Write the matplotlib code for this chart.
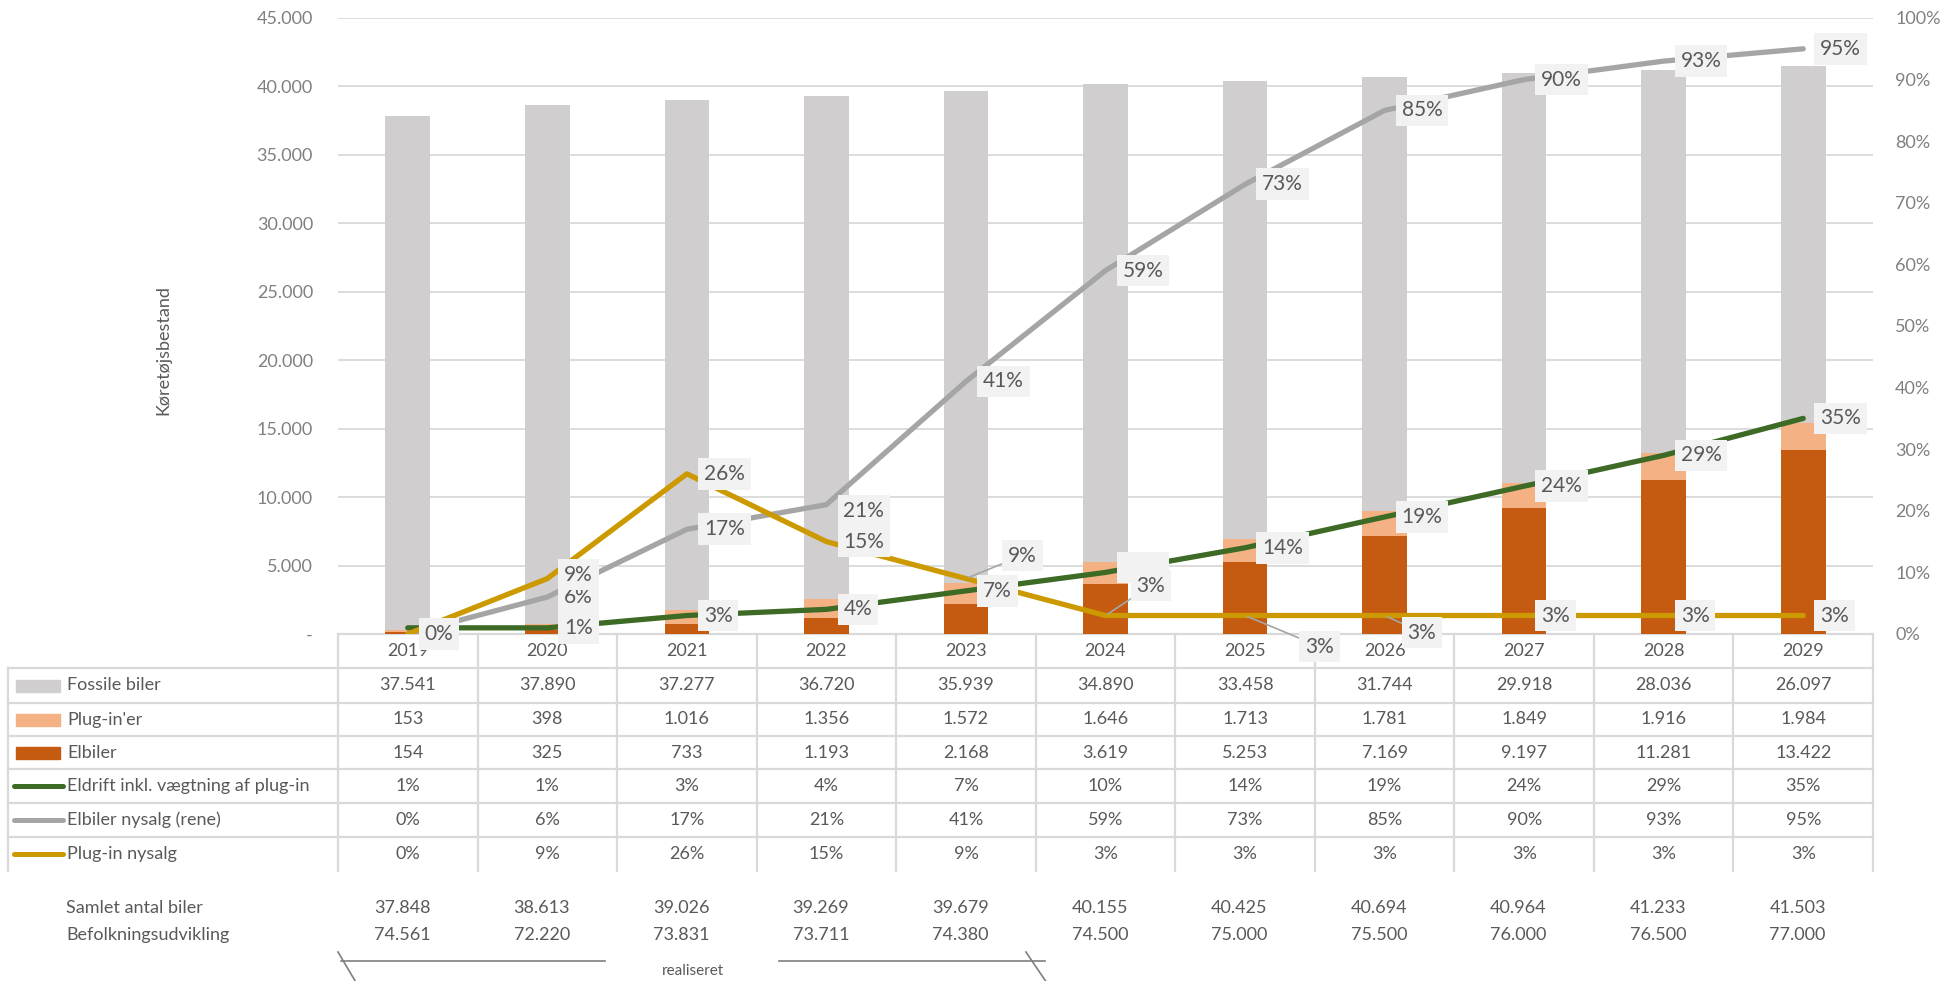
import numpy as np
import matplotlib.pyplot as plt
import matplotlib.transforms as mtransforms
from matplotlib.lines import Line2D
from matplotlib.patches import Rectangle

plt.rcParams["font.family"] = ["Lato", "DejaVu Sans"]

years = [2019, 2020, 2021, 2022, 2023, 2024, 2025, 2026, 2027, 2028, 2029]
fossile = [37541, 37890, 37277, 36720, 35939, 34890, 33458, 31744, 29918, 28036, 26097]
plugin = [153, 398, 1016, 1356, 1572, 1646, 1713, 1781, 1849, 1916, 1984]
elbiler = [154, 325, 733, 1193, 2168, 3619, 5253, 7169, 9197, 11281, 13422]
eldrift = [1, 1, 3, 4, 7, 10, 14, 19, 24, 29, 35]
nysalg_el = [0, 6, 17, 21, 41, 59, 73, 85, 90, 93, 95]
nysalg_plug = [0, 9, 26, 15, 9, 3, 3, 3, 3, 3, 3]
samlet = [37848, 38613, 39026, 39269, 39679, 40155, 40425, 40694, 40964, 41233, 41503]
befolkning = [74561, 72220, 73831, 73711, 74380, 74500, 75000, 75500, 76000, 76500, 77000]

C_FOS = "#D0CECE"
C_PLUG = "#F4B183"
C_EL = "#C55A11"
C_GREEN = "#3D6B26"
C_GRAY = "#A5A5A5"
C_YEL = "#CC9900"
TXT = "#595959"
TICK = "#808080"
GRID = "#D9D9D9"

W, H = 1959, 981


def fx(p):
    return p / W


def fy(p):
    return 1 - p / H


def fmt(v):
    return f"{v:,}".replace(",", ".")


fig = plt.figure(figsize=(W / 100, H / 100), dpi=100)
ax = fig.add_axes([fx(338), fy(634), fx(1873) - fx(338), (634 - 18) / H])
ax.patch.set_visible(False)

x = np.arange(len(years))
el = np.array(elbiler)
pl = np.array(plugin)
bw = 0.32
ax.bar(x, el, bw, color=C_EL)
ax.bar(x, pl, bw, bottom=el, color=C_PLUG)
ax.bar(x, fossile, bw, bottom=el + pl, color=C_FOS)

ax.set_xlim(-0.5, len(years) - 0.5)
ax.set_ylim(0, 45000)
yt = list(range(0, 45001, 5000))
ax.set_yticks(yt)
ax.set_yticklabels(["-" if t == 0 else fmt(t) for t in yt])
ax.set_xticks([])
ax.yaxis.grid(True, color=GRID, lw=1.3)
ax.set_axisbelow(True)
ax.tick_params(axis="y", length=0, pad=18, labelsize=13, labelcolor=TICK)
for s in ax.spines.values():
    s.set_visible(False)

ax2 = ax.twinx()
ax2.patch.set_visible(False)
ax2.set_ylim(0, 1)
pt = np.arange(0, 1.01, 0.1)
ax2.set_yticks(pt)
ax2.set_yticklabels([f"{int(round(t * 100))}%" for t in pt])
ax2.tick_params(axis="y", length=0, pad=16, labelsize=13, labelcolor=TICK)
for s in ax2.spines.values():
    s.set_visible(False)

lw = 3.8
ax2.plot(x, np.array(eldrift) / 100, color=C_GREEN, lw=lw, solid_capstyle="round", zorder=3)
ax2.plot(x, np.array(nysalg_el) / 100, color=C_GRAY, lw=lw, solid_capstyle="round", zorder=3)
ax2.plot(x, np.array(nysalg_plug) / 100, color=C_YEL, lw=lw, solid_capstyle="round", zorder=3)


def label(i, val, dx=17, dy=0, leader=False, tcolor=TXT):
    kw = {}
    if leader:
        kw["arrowprops"] = dict(arrowstyle="-", color="#A6A6A6", lw=1.2,
                                shrinkA=0, shrinkB=2)
    ax2.annotate(f"{val}%", xy=(x[i], val / 100), xytext=(dx, dy),
                 textcoords="offset pixels", ha="left", va="center",
                 fontsize=15, color=tcolor, zorder=5, annotation_clip=False,
                 bbox=dict(boxstyle="square,pad=0.28", fc="#F2F2F2", ec="none"),
                 **kw)


# Elbiler nysalg (rene)
for i in range(len(years)):
    dy = -6 if i == 3 else 0
    label(i, nysalg_el[i], dy=dy)

# Eldrift (2024 label is covered in the original)
for i in range(1, len(years)):
    if i == 5:
        label(i, eldrift[i], dy=5, tcolor="#F2F2F2")
    else:
        label(i, eldrift[i])

# Plug-in nysalg
for i in range(1, len(years)):
    v = nysalg_plug[i]
    if i == 1:
        label(i, v, dy=4)
    elif i == 4:
        label(i, v, dx=42, dy=23, leader=True)
    elif i == 5:
        label(i, v, dx=31, dy=30, leader=True)
    elif i == 6:
        label(i, v, dx=60, dy=-31, leader=True)
    elif i == 7:
        label(i, v, dx=23, dy=-17, leader=True)
    else:
        label(i, v)

# table below the chart
bt = mtransforms.blended_transform_factory(ax.transData, fig.transFigure)
rows = [634, 668, 703, 736, 769, 803, 837, 871]


def fline(xs, ys, transform, **kw):
    ln = Line2D(xs, ys, transform=transform, color=GRID, lw=1.6, zorder=-1, **kw)
    fig.add_artist(ln)


fline([-0.5, len(years) - 0.5], [fy(634), fy(634)], bt)
for r in rows[1:-1]:
    fline([fx(8), fx(1873)], [fy(r), fy(r)], fig.transFigure)
for b in np.arange(-0.5, len(years), 1.0):
    fline([b, b], [fy(634), fy(871)], bt)
fline([fx(8), fx(8)], [fy(668), fy(871)], fig.transFigure)

for i, yr in enumerate(years):
    fig.text(x[i], fy(651), str(yr), transform=bt, ha="center", va="center",
             fontsize=13, color=TXT, zorder=-1)

table_rows = [
    ("Fossile biler", "patch", C_FOS, [fmt(v) for v in fossile]),
    ("Plug-in'er", "patch", C_PLUG, [fmt(v) for v in plugin]),
    ("Elbiler", "patch", C_EL, [fmt(v) for v in elbiler]),
    ("Eldrift inkl. vægtning af plug-in", "line", C_GREEN, [f"{v}%" for v in eldrift]),
    ("Elbiler nysalg (rene)", "line", C_GRAY, [f"{v}%" for v in nysalg_el]),
    ("Plug-in nysalg", "line", C_YEL, [f"{v}%" for v in nysalg_plug]),
]
for k, (name, kind, col, vals) in enumerate(table_rows):
    yc = (rows[k + 1] + rows[k + 2]) / 2
    if kind == "patch":
        fig.add_artist(Rectangle((fx(16), fy(yc + 6)), fx(60) - fx(16), 12 / H,
                                 transform=fig.transFigure, color=col))
    else:
        fig.add_artist(Line2D([fx(14), fx(63)], [fy(yc), fy(yc)], transform=fig.transFigure,
                              color=col, lw=3.6, solid_capstyle="round"))
    fig.text(fx(67), fy(yc), name, ha="left", va="center", fontsize=13, color=TXT)
    for i, v in enumerate(vals):
        fig.text(x[i], fy(yc), v, transform=bt, ha="center", va="center",
                 fontsize=13, color=TXT)

narrow = ["Liberation Sans Narrow", "Lato", "DejaVu Sans"]
for yp, name, vals in [(908, "Samlet antal biler", samlet),
                       (935, "Befolkningsudvikling", befolkning)]:
    fig.text(fx(66), fy(yp), name, ha="left", va="center", fontsize=13,
             color=TXT, family=narrow)
    for i, v in enumerate(vals):
        fig.text(x[i] - 0.04, fy(yp), fmt(v), transform=bt, ha="center", va="center",
                 fontsize=13, color=TXT, family=narrow)

# "realiseret" bracket
lc = "#7F7F7F"
fig.add_artist(Line2D([-0.48, 1.41], [fy(961), fy(961)], transform=bt, color=lc, lw=1.2))
fig.add_artist(Line2D([2.66, 4.57], [fy(961), fy(961)], transform=bt, color=lc, lw=1.2))
fig.add_artist(Line2D([-0.5, -0.36], [fy(952), fy(985)], transform=bt, color=lc, lw=1.2))
fig.add_artist(Line2D([4.43, 4.59], [fy(952), fy(985)], transform=bt, color=lc, lw=1.2))
fig.text(2.04, fy(971), "realiseret", transform=bt, ha="center", va="center",
         fontsize=11, color=TXT, family=narrow)

fig.text(fx(163), fy(350), "Køretøjsbestand", rotation=90, ha="center", va="center",
         fontsize=13, color=TXT)

fig.savefig("out.png", dpi=100, facecolor="white")
